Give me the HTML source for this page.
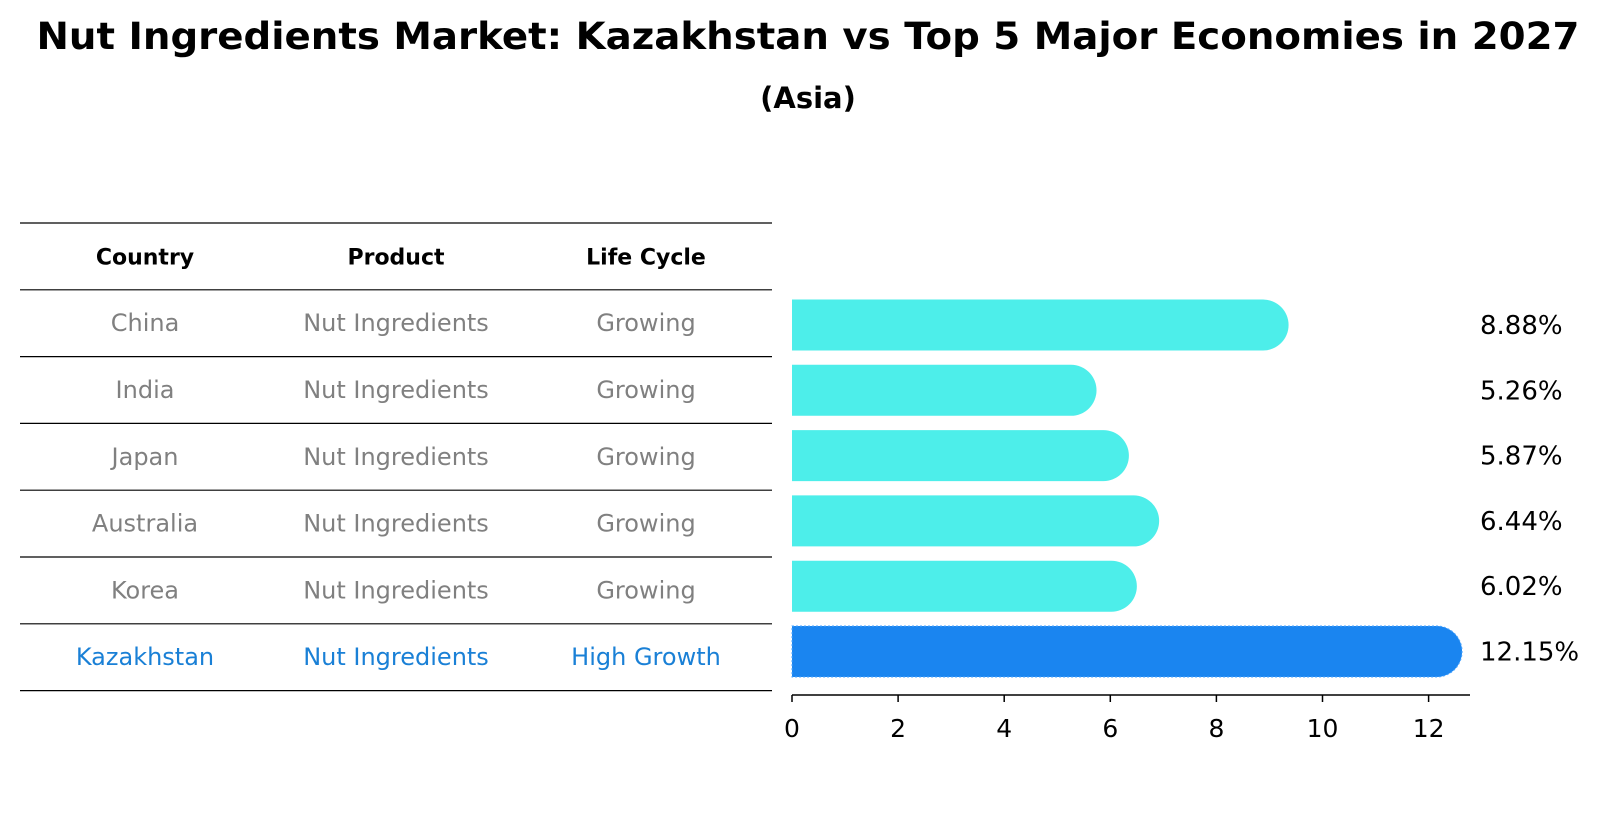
<!DOCTYPE html>
<html><head><meta charset="utf-8"><style>
body{margin:0;background:#fff;font-family:"DejaVu Sans","Liberation Sans",sans-serif;}
</style></head><body>
<svg width="1604" height="823" xmlns="http://www.w3.org/2000/svg" font-family="DejaVu Sans, Liberation Sans, sans-serif">
<text x="808" y="49" text-anchor="middle" font-size="37" font-weight="bold" textLength="1543" lengthAdjust="spacingAndGlyphs">Nut Ingredients Market: Kazakhstan vs Top 5 Major Economies in 2027</text>
<text x="808" y="108" text-anchor="middle" font-size="29" font-weight="bold">(Asia)</text>
<g id="table"></g>
<g id="bars"></g>
<g id="axis"></g>
</svg>
<script>
const countries=["China","India","Japan","Australia","Korea","Kazakhstan"];
const products=["Nut Ingredients","Nut Ingredients","Nut Ingredients","Nut Ingredients","Nut Ingredients","Nut Ingredients"];
const lifeCycles=["Growing","Growing","Growing","Growing","Growing","High Growth"];
const values=[8.88,5.26,5.87,6.44,6.02,12.15];
const ticks=[0,2,4,6,8,10,12];
const NS="http://www.w3.org/2000/svg";
function mk(tag,attrs,parent,txt){const e=document.createElementNS(NS,tag);for(const k in attrs)e.setAttribute(k,attrs[k]);if(txt!==undefined)e.textContent=txt;parent.appendChild(e);return e;}
const x=v=>792+v*53.05;
const rowY=i=>325+i*65.3;
const table=document.getElementById('table');
const lineY=k=>223+k*66.8;
for(let k=0;k<8;k++){const l=mk('line',{x1:20,x2:772,y1:lineY(k),y2:lineY(k),stroke:'#000','stroke-width':1.2},table);

}
const cols=[145,396,646];
["Country","Product","Life Cycle"].forEach((h,j)=>{const t=mk('text',{x:cols[j],y:(lineY(0)+lineY(1))/2+8,'text-anchor':'middle','font-size':22,'font-weight':'bold'},table,h);

});
countries.forEach((c,i)=>{
 const y=(lineY(i+1)+lineY(i+2))/2+8;
 const col=c==="Kazakhstan"?'#1a80d6':'#808080';
 [c,products[i],lifeCycles[i]].forEach((s,j)=>{const t=mk('text',{x:cols[j],y:y,'text-anchor':'middle','font-size':24,fill:col},table,s);
 
 });
});
const bars=document.getElementById('bars');
values.forEach((v,i)=>{
 const cy=rowY(i);const hl=countries[i]==="Kazakhstan";const col=hl?'#1a85f0':'#4deeea';
 const p=mk('path',{d:`M${x(0)},${cy-25.5} H${x(v)} A25.5,25.5 0 0 1 ${x(v)},${cy+25.5} H${x(0)} Z`,fill:col},bars);
 if(hl){p.setAttribute('stroke','#4da6ff');p.setAttribute('stroke-dasharray','2,2');}
 
 
 const t=mk('text',{x:1480,y:cy+9,'font-size':26},bars,v.toFixed(2)+'%');
 
 
});
const axis=document.getElementById('axis');
mk('line',{x1:792,x2:1470,y1:695,y2:695,stroke:'#000','stroke-width':1.5},axis);
ticks.forEach(t=>{
 mk('line',{x1:x(t),x2:x(t),y1:695,y2:702,stroke:'#000','stroke-width':1.5},axis);
 const e=mk('text',{x:x(t),y:737,'text-anchor':'middle','font-size':25},axis,t);
 
 
});
</script>
</body></html>
